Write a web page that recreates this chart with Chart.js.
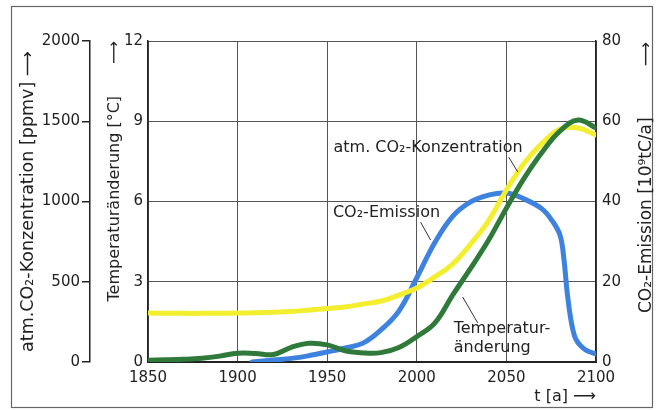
<!DOCTYPE html>
<html lang="de">
<head>
<meta charset="UTF-8">
<title>CO2-Emission, CO2-Konzentration und Temperaturänderung</title>
<script src="https://cdn.jsdelivr.net/npm/chart.js"></script>
<style>
  html, body { margin: 0; padding: 0; background: #fff; }
  canvas { display: block; }
</style>
</head>
<body>
<canvas id="klimaChart" width="659" height="410"></canvas>
<script>
// years shared by concentration and temperature
const years = [1850, 1860, 1870, 1880, 1890, 1900, 1910, 1920, 1930, 1940, 1950, 1960, 1970,
               1980, 1990, 2000, 2010, 2020, 2030, 2040, 2050, 2060, 2070, 2080, 2090, 2100];
// atm. CO2 concentration [ppmv]
const co2Ppm = [305, 304, 303, 303, 304, 305, 307, 310, 314, 324, 334, 343, 361,
                380, 417, 461, 530, 610, 735, 880, 1072, 1240, 1364, 1452, 1458, 1415];
// temperature change [°C]
const tempChange = [0.07, 0.08, 0.10, 0.14, 0.22, 0.33, 0.32, 0.28, 0.55, 0.70, 0.64, 0.42, 0.34,
                    0.35, 0.54, 0.95, 1.45, 2.5, 3.5, 4.55, 5.75, 6.88, 7.85, 8.64, 9.05, 8.75];
// CO2 emission [10^9 tC/a]
const emissionYears = [1908, 1920, 1930, 1940, 1950, 1960, 1970, 1980, 1990, 2000, 2010, 2020, 2030,
                       2040, 2050, 2060, 2070, 2076, 2080, 2082, 2084, 2086, 2088, 2090, 2093, 2096, 2100];
const emission = [0, 0.5, 0.9, 1.6, 2.5, 3.5, 4.7, 8.0, 12.7, 21, 29.7, 36.3, 39.9,
                  41.6, 42.1, 40.6, 38.1, 34.9, 31.5, 26, 17, 10.5, 6.5, 4.8, 3.4, 2.6, 2.0];

// tick values of the axes
const yearTicks = [1850, 1900, 1950, 2000, 2050, 2100];
const tempTicks = [0, 3, 6, 9, 12];
const co2Ticks = [0, 500, 1000, 1500, 2000];
const emissionTicks = [0, 20, 40, 60, 80];

// curve labels, in (year, °C) units
const noteText = ['atm. CO₂-Konzentration', 'CO₂-Emission', 'Temperatur-', 'änderung'];
const noteYear = [1953.5, 1953.2, 2020.6, 2020.6];
const noteTemp = [8.0, 5.57, 1.23, 0.54];
// leader lines from label to curve
const leaderFrom = [[2051.3, 7.66], [2002.1, 5.23], [2025.6, 2.43]];
const leaderTo = [[2056.4, 7.10], [2007.7, 4.56], [2034.0, 1.46]];

const INK = '#222';
const GRID = '#555';
Chart.defaults.font.family = 'DejaVu Sans';
Chart.defaults.color = INK;

const toPoints = (xs, ys) => xs.map((x, i) => ({ x: x, y: ys[i] }));
const fixTicks = values => axis => { axis.ticks = values.map(v => ({ value: v })); };
const plain = v => String(v);

const framePlugin = {
    id: 'frame',
    beforeDraw(chart) {
        const ctx = chart.ctx;
        ctx.save();
        ctx.strokeStyle = '#666';
        ctx.lineWidth = 1.2;
        ctx.strokeRect(11.5, 6.5, 641, 401);
        ctx.restore();
    }
};

const notesPlugin = {
    id: 'notes',
    afterDatasetsDraw(chart) {
        const ctx = chart.ctx;
        const x = chart.scales.x, y = chart.scales.temp;
        ctx.save();
        ctx.fillStyle = INK;
        ctx.font = '16px "DejaVu Sans"';
        ctx.textAlign = 'left';
        ctx.textBaseline = 'middle';
        noteText.forEach((t, i) => {
            ctx.fillText(t, x.getPixelForValue(noteYear[i]), y.getPixelForValue(noteTemp[i]));
        });
        ctx.strokeStyle = '#333';
        ctx.lineWidth = 1;
        leaderFrom.forEach((p, i) => {
            ctx.beginPath();
            ctx.moveTo(x.getPixelForValue(p[0]), y.getPixelForValue(p[1]));
            ctx.lineTo(x.getPixelForValue(leaderTo[i][0]), y.getPixelForValue(leaderTo[i][1]));
            ctx.stroke();
        });
        ctx.restore();
    }
};

// right axis title reads bottom to top, like the left ones
const rightTitlePlugin = {
    id: 'rightTitle',
    afterDraw(chart) {
        const ctx = chart.ctx;
        const s = chart.scales.em;
        ctx.save();
        ctx.translate(s.right - 12, s.top + 1);
        ctx.rotate(-Math.PI / 2);
        ctx.fillStyle = INK;
        ctx.font = '17px "DejaVu Sans"';
        ctx.textAlign = 'right';
        ctx.textBaseline = 'middle';
        ctx.fillText('CO₂-Emission [10⁹tC/a]\u2003\u2003\u2003⟶', 0, 0);
        ctx.restore();
    }
};

const line = (label, data, axis, color) => ({
    label: label,
    data: data,
    yAxisID: axis,
    borderColor: color,
    borderWidth: 5,
    borderCapStyle: 'round',
    pointRadius: 0,
    fill: false,
    tension: 0.4
});

const ctx = document.getElementById('klimaChart').getContext('2d');
new Chart(ctx, {
    type: 'line',
    data: {
        datasets: [
            line('Temperaturänderung', toPoints(years, tempChange), 'temp', '#2f7a3b'),
            line('atm. CO₂-Konzentration', toPoints(years, co2Ppm), 'co2', '#f3ee2e'),
            line('CO₂-Emission', toPoints(emissionYears, emission), 'em', '#3e82e0')
        ]
    },
    options: {
        responsive: false,
        animation: false,
        layout: { padding: { left: 0, top: 41, right: 0, bottom: 4 } },
        plugins: { legend: { display: false }, tooltip: { enabled: false } },
        scales: {
            x: {
                type: 'linear', position: 'bottom', min: 1850, max: 2100,
                afterBuildTicks: fixTicks(yearTicks),
                ticks: { callback: plain, padding: 7, maxRotation: 0, font: { size: 15 } },
                grid: { color: GRID, lineWidth: 1, drawTicks: false },
                border: { color: INK, width: 2 },
                title: { display: true, text: 't [a] ⟶', align: 'end', font: { size: 16 }, padding: { top: 0, bottom: 0 } },
                afterFit: s => { s.height = 44; }
            },
            temp: {
                position: 'left', weight: 1, min: 0, max: 12,
                afterBuildTicks: fixTicks(tempTicks),
                ticks: { callback: plain, padding: 5, font: { size: 15 } },
                grid: { color: GRID, lineWidth: 1, drawTicks: false },
                border: { color: INK, width: 1.5 },
                title: { display: true, text: 'Temperaturänderung [°C]\u2003\u2003⟶', align: 'end', font: { size: 16 }, padding: { top: 15, bottom: 0 } },
                afterFit: s => { s.width = 58; }
            },
            co2: {
                position: 'left', weight: 2, min: 0, max: 2000,
                afterBuildTicks: fixTicks(co2Ticks),
                ticks: { callback: plain, padding: 2, font: { size: 15 } },
                grid: { drawOnChartArea: false, tickLength: 8, color: INK, lineWidth: 1.5 },
                border: { color: INK, width: 1.5 },
                title: { display: true, text: 'atm.CO₂-Konzentration [ppmv] ⟶', align: 'center', font: { size: 17.5 }, padding: { top: 18, bottom: 0 } },
                afterFit: s => { s.width = 90; }
            },
            em: {
                position: 'right', min: 0, max: 80,
                afterBuildTicks: fixTicks(emissionTicks),
                ticks: { callback: plain, padding: 6, font: { size: 15 } },
                grid: { drawOnChartArea: false, drawTicks: false },
                border: { color: INK, width: 1.5 },
                afterFit: s => { s.width = 63; }
            }
        }
    },
    plugins: [framePlugin, notesPlugin, rightTitlePlugin]
});
</script>
</body>
</html>
